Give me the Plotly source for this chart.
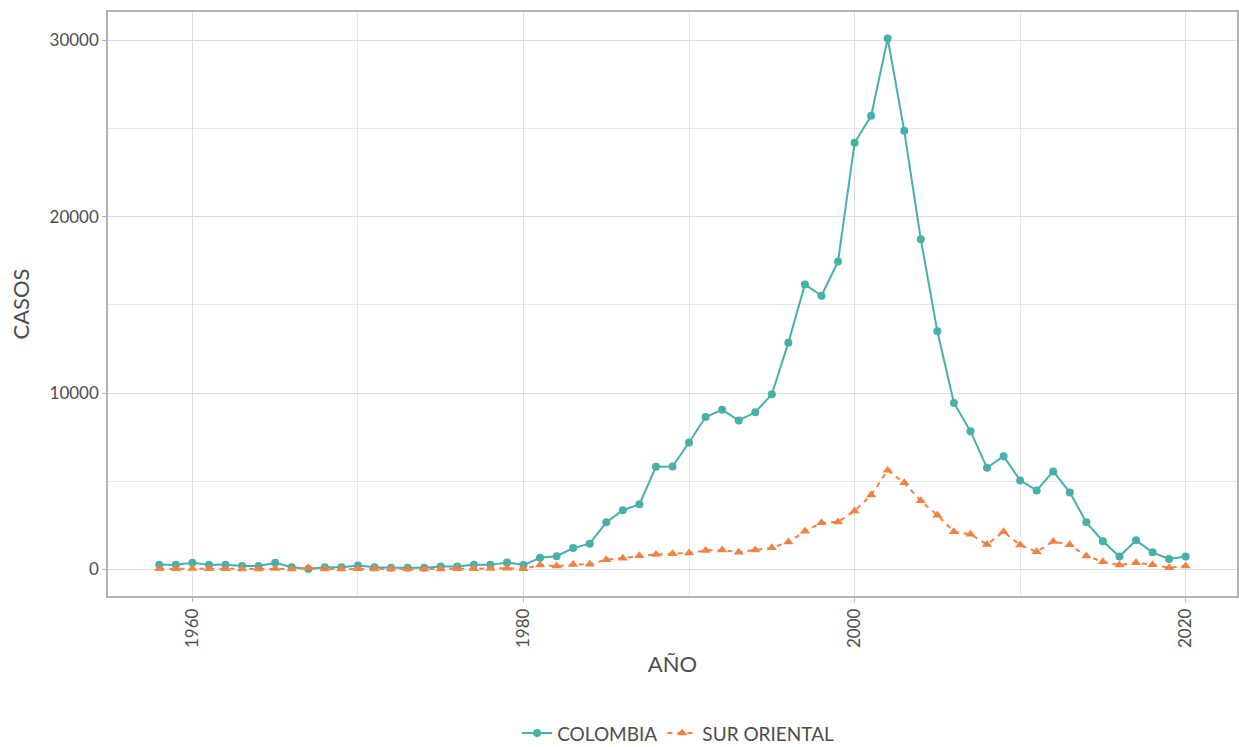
import plotly.graph_objects as go

years = list(range(1958, 2021))

colombia = [270, 270, 380, 260, 270, 200, 200, 380, 130, 20,
            130, 130, 220, 130, 100, 100, 100, 170, 170, 260,
            260, 400, 250, 660, 750, 1210, 1460, 2670, 3360, 3690,
            5820, 5840, 7200, 8640, 9050, 8450, 8910, 9930, 12860, 16160,
            15520, 17460, 24190, 25720, 30100, 24870, 18720, 13500, 9440, 7840,
            5760, 6420, 5050, 4480, 5560, 4370, 2670, 1600, 730, 1650,
            970, 590, 740]

sur_oriental = [40, 40, 50, 40, 40, 30, 30, 50, 30, 90,
                30, 30, 40, 30, 30, 30, 30, 30, 40, 40,
                50, 75, 40, 250, 190, 280, 300, 550, 640, 770,
                850, 890, 930, 1080, 1100, 980, 1100, 1230, 1550, 2160,
                2650, 2690, 3320, 4220, 5620, 4910, 3890, 3080, 2140, 1990,
                1420, 2140, 1380, 1000, 1590, 1400, 760, 440, 250, 380,
                270, 100, 200]

teal = "#47B0A8"
orange = "#F08243"
txt = "#4D4D4D"
font_family = "Lato, 'Open Sans', sans-serif"

fig = go.Figure()
fig.add_trace(go.Scatter(
    x=years, y=colombia, name="COLOMBIA", mode="lines+markers",
    line=dict(color=teal, width=2),
    marker=dict(color=teal, size=8, symbol="circle"),
))
fig.add_trace(go.Scatter(
    x=years, y=sur_oriental, name="SUR ORIENTAL", mode="lines+markers",
    line=dict(color=orange, width=2, dash="5px,5px"),
    marker=dict(color=orange, size=9, symbol="triangle-up"),
))

fig.update_layout(
    width=1239, height=747,
    margin=dict(l=108, r=2, t=12, b=151, autoexpand=False),
    paper_bgcolor="white", plot_bgcolor="white",
    font=dict(family=font_family, color=txt, size=15),
    showlegend=True,
    legend=dict(orientation="h", x=0.505, xanchor="center",
                yref="paper", y=-0.235, yanchor="middle",
                font=dict(size=19, color=txt), title_text=""),
)
fig.update_xaxes(
    range=[1954.9, 2023.1], dtick=20, tick0=1960, automargin=False,
    tickangle=-90, ticks="outside", ticklen=4, tickcolor="#B3B3B3",
    tickfont=dict(size=17, color=txt),
    showgrid=True, gridcolor="#DEDEDE", gridwidth=1,
    minor=dict(dtick=10, showgrid=True, gridcolor="#E6E6E6", gridwidth=1),
    showline=True, linecolor="#B3B3B3", linewidth=1.5, mirror=True,
    zeroline=False,
    title=dict(text="AÑO", font=dict(size=22, color=txt), standoff=10),
)
fig.update_yaxes(
    range=[-1505, 31605], dtick=10000, tick0=0, tickformat="d", automargin=False,
    ticks="outside", ticklen=4, tickcolor="#B3B3B3",
    tickfont=dict(size=17, color=txt),
    showgrid=True, gridcolor="#DEDEDE", gridwidth=1,
    minor=dict(dtick=5000, showgrid=True, gridcolor="#E6E6E6", gridwidth=1),
    showline=True, linecolor="#B3B3B3", linewidth=1.5, mirror=True,
    zeroline=False,
    title=dict(text="CASOS", font=dict(size=22, color=txt), standoff=14),
)

fig.write_html(
    "out.html",
    config={"displayModeBar": False},
    post_script="document.body.style.margin='0';document.body.style.overflow='hidden';",
)
